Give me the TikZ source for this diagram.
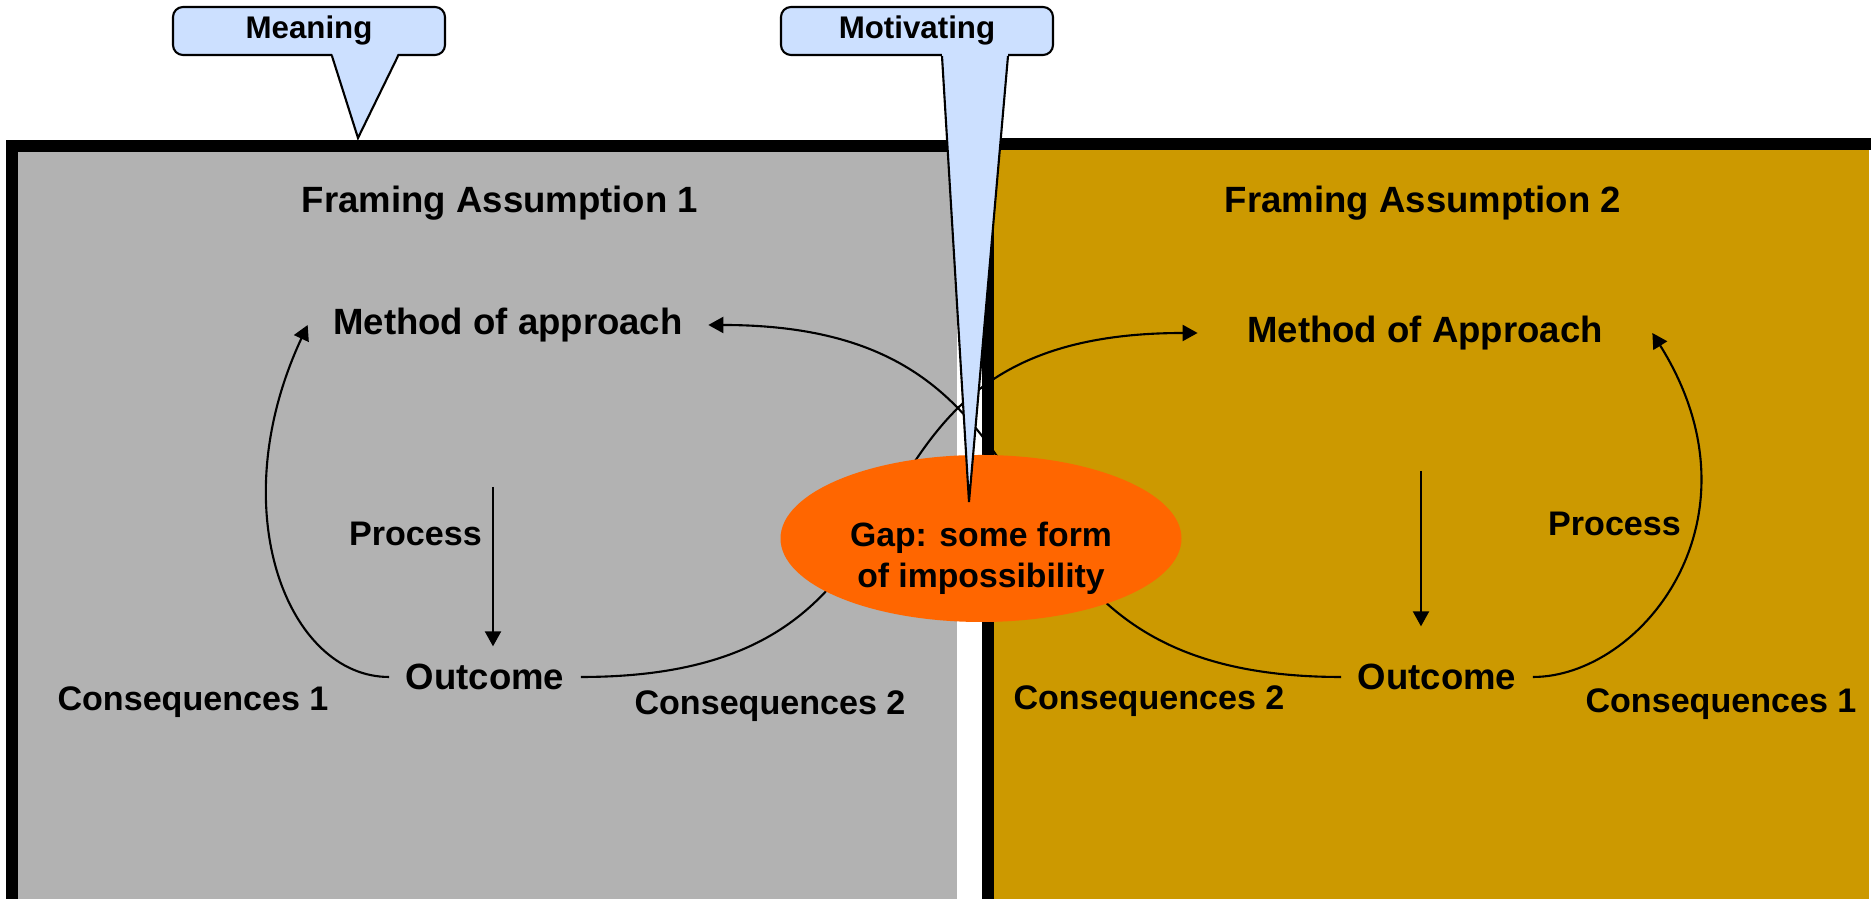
\documentclass[tikz,border=0pt]{standalone}
\usepackage{fontspec}
\setmainfont{Liberation Sans}
\usetikzlibrary{calc,shapes.geometric,arrows.meta}

\definecolor{panelgray}{RGB}{178,178,178}
\definecolor{panelgold}{RGB}{204,153,0}
\definecolor{gaporange}{RGB}{255,102,0}
\definecolor{callblue}{RGB}{204,224,255}

\tikzset{
	panelline/.style={line width=0.12cm},
	bigtxt/.style={font=\fontsize{10.4}{12}\selectfont\bfseries, inner sep=0pt},
	smalltxt/.style={font=\fontsize{9.7}{11}\selectfont\bfseries, inner sep=0pt},
	outtxt/.style={bigtxt, inner xsep=0.16cm, inner ysep=0.17cm},
	arr/.style={line width=0.6pt, -{Triangle[length=0.15cm,width=0.16cm]}},
	gapoval/.style={ellipse, fill=gaporange, minimum width=4.01cm, minimum height=1.67cm, inner sep=0pt},
	gaptxt/.style={font=\fontsize{9.6}{11.6}\selectfont\bfseries, align=center, inner sep=0pt},
	callbox/.style={draw, line width=0.6pt, fill=callblue, rounded corners=0.1cm, minimum width=2.72cm, minimum height=0.48cm, inner sep=0pt, font=\fontsize{8.9}{10}\selectfont\bfseries},
	callline/.style={line width=0.6pt, line join=miter}
}

\begin{document}
\begin{tikzpicture}
		%%%%% START %%%%%
		\useasboundingbox (0,0) rectangle (18.75,-8.99);
		
		% the two framings
		\fill[panelgray] (0.06,-1.40) rectangle (9.57,-8.99);
		\draw[panelline] (0.12,-8.99) -- (0.12,-1.46) -- (9.57,-1.46);
		\fill[panelgold] (9.82,-1.38) rectangle (18.69,-8.99);
		\draw[panelline] (9.88,-8.99) -- (9.88,-1.44) -- (18.71,-1.44);
		
		\node[bigtxt] (fram1) at (5.00,-2.03) {Framing Assumption 1};
		\node[bigtxt] (fram2) at (14.23,-2.03) {Framing Assumption 2};
		
		\node[bigtxt, inner xsep=0.25cm] (meth1) at (5.08,-3.25) {Method of approach};
		\node[bigtxt, inner xsep=0.49cm] (meth2) at (14.25,-3.33) {Method of Approach};
		
		\node[smalltxt] (proc1) at (4.155,-5.335) {Process};
		\node[smalltxt] (proc2) at (16.145,-5.24) {Process};
		
		\node[outtxt] (out1) at (4.85,-6.77) {Outcome};
		\node[outtxt] (out2) at (14.37,-6.77) {Outcome};
		
		\node[smalltxt] (consA1) at (1.93,-7.02) {Consequences 1};
		\node[smalltxt] (consA2) at (7.70,-7.06) {Consequences 2};
		\node[smalltxt] (consB2) at (11.49,-7.01) {Consequences 2};
		\node[smalltxt] (consB1) at (17.21,-7.04) {Consequences 1};
		
		% process arrows
		\coordinate (top1) at (4.93,-4.87);
		\coordinate (top2) at (14.21,-4.71);
		\draw[arr] (top1) -- (top1 |- out1.north);
		\draw[arr, shorten >=0.2cm] (top2) -- (top2 |- out2.north);
		
		% consequences
		\draw[arr] (out1.west) .. controls +(180:1.01) and +(-115:2.05) .. (meth1.west);
		\draw[arr] (out2.east) .. controls +(0:1.08) and +(-58:2.2) .. (meth2.east);
		\draw[arr] (out1.east) .. controls +(0:4) and +(180:4) .. (meth2.west);
		\draw[arr] (out2.west) .. controls +(180:4) and +(0:4) .. (meth1.east);
		
		% the gap
		\node[gapoval] (gap) at (9.81,-5.385) {};
		\node[gaptxt] (gaptext) at (9.81,-5.585) {Gap: some form\\of impossibility};
		
		% callouts
		\node[callbox] (mean) at (3.09,-0.31) {Meaning};
		\node[callbox] (motiv) at (9.17,-0.31) {Motivating};
		\coordinate (meantip) at (3.58,-1.38);
		\coordinate (motivtip) at (9.69,-5.02);
		
		\fill[callblue] ([xshift=0.23cm,yshift=0.03cm]mean.south) -- (meantip) -- ([xshift=0.89cm,yshift=0.03cm]mean.south) -- cycle;
		\draw[callline] ([xshift=0.23cm]mean.south) -- (meantip) -- ([xshift=0.89cm]mean.south);
		\fill[callblue] ([xshift=0.25cm,yshift=0.03cm]motiv.south) -- (motivtip) -- ([xshift=0.91cm,yshift=0.03cm]motiv.south) -- cycle;
		\draw[callline] ([xshift=0.25cm]motiv.south) -- (motivtip) -- ([xshift=0.91cm]motiv.south);
		
		%%%%% END %%%%%
\end{tikzpicture}
\end{document}
